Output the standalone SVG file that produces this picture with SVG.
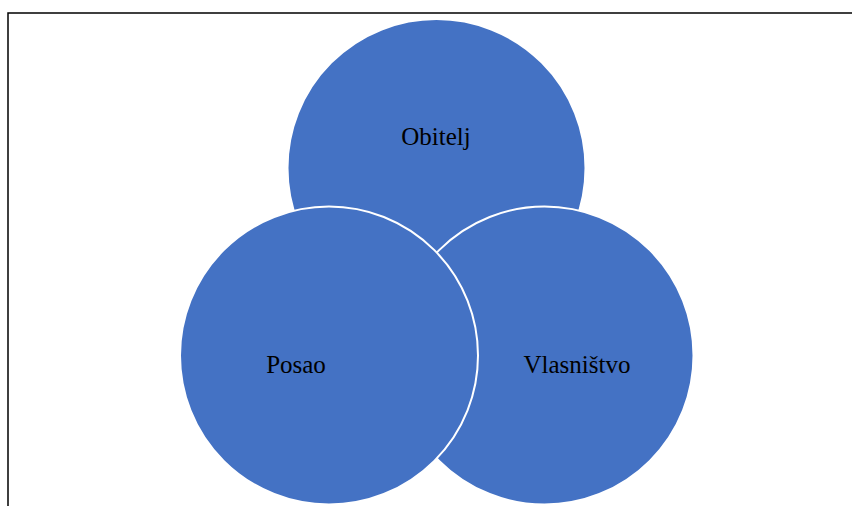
<svg xmlns="http://www.w3.org/2000/svg" width="852" height="506" viewBox="0 0 852 506">
<style>
.c{fill:#4472C4;stroke:#FFFFFF;stroke-width:2}
.t{font-family:"Liberation Serif","Times New Roman",serif;font-size:25px;fill:#000000;text-anchor:middle}
</style>
<rect x="0" y="0" width="852" height="506" fill="#FFFFFF"/>
<rect id="frame" x="8" y="13" width="860" height="510" fill="none" stroke="#000000" stroke-width="1.5"/>
<g id="obitelj">
<circle class="c" cx="436.5" cy="168" r="149"/>
<text class="t" x="436" y="145">Obitelj</text>
</g>
<g id="vlasnistvo">
<circle class="c" cx="544.5" cy="355.5" r="149"/>
<text class="t" x="577" y="373">Vlasništvo</text>
</g>
<g id="posao">
<circle class="c" cx="329" cy="355.5" r="149"/>
<text class="t" x="296" y="373">Posao</text>
</g>
<g id="connectors"></g>
</svg>
